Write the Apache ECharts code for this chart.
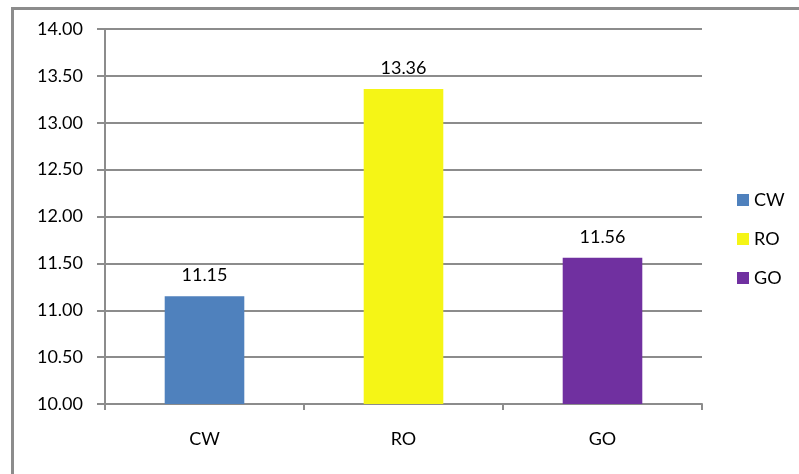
<!DOCTYPE html>
<html>
<head>
<meta charset="utf-8">
<script src="https://cdn.jsdelivr.net/npm/echarts@6/dist/echarts.min.js"></script>
<style>html,body{margin:0;padding:0;background:#fff}#c{width:799px;height:474px}</style>
</head>
<body>
<div id="c"></div>
<script>
const categories = ['CW', 'RO', 'GO'];
const seriesNames = ['CW', 'RO', 'GO'];
const values = [11.15, 13.36, 11.56];
const colors = ['#4F81BD', '#F5F516', '#7030A0'];
const yTicks = { min: 10, max: 14, interval: 0.5 };

const FONT = 'Lato, "Open Sans", sans-serif';
const chart = echarts.init(document.getElementById('c'), null, { renderer: 'canvas' });

const series = seriesNames.map((name, i) => ({
  name: name,
  type: 'bar',
  barWidth: '40%',
  barGap: '-100%',
  itemStyle: { color: colors[i] },
  label: {
    show: true, position: 'top', distance: 12,
    color: '#000', fontSize: 18, fontFamily: FONT,
    formatter: p => Number(p.value).toFixed(2)
  },
  data: categories.map((c, j) => j === i ? values[i] : '-')
}));

chart.setOption({
  animation: false,
  backgroundColor: '#fff',
  graphic: [{
    type: 'rect', left: 10, top: 6, silent: true,
    shape: { width: 900, height: 600 },
    style: { fill: 'none', stroke: '#8c8c8c', lineWidth: 3 }
  }],
  grid: { left: 105, right: 97, top: 29, bottom: 70, containLabel: false },
  legend: {
    orient: 'vertical', left: 732, top: 186,
    itemWidth: 12, itemHeight: 12, itemGap: 21,
    icon: 'rect',
    textStyle: { fontSize: 18, lineHeight: 18, fontFamily: FONT, color: '#000' },
    data: seriesNames
  },
  xAxis: {
    type: 'category', data: categories,
    axisLine: { lineStyle: { color: '#8c8c8c', width: 2 } },
    axisTick: { show: true, length: 6, alignWithLabel: false, lineStyle: { color: '#8c8c8c', width: 2 } },
    axisLabel: { color: '#000', fontSize: 18, fontFamily: FONT, margin: 26 }
  },
  yAxis: {
    type: 'value', min: yTicks.min, max: yTicks.max, interval: yTicks.interval,
    axisLine: { show: true, lineStyle: { color: '#8c8c8c', width: 2 } },
    axisTick: { show: true, length: 8, lineStyle: { color: '#8c8c8c', width: 2 } },
    splitLine: { show: true, lineStyle: { color: '#8c8c8c', width: 2 } },
    axisLabel: { color: '#000', fontSize: 18, fontFamily: FONT, margin: 22,
      formatter: v => v.toFixed(2) }
  },
  series: series
});
</script>
</body>
</html>
